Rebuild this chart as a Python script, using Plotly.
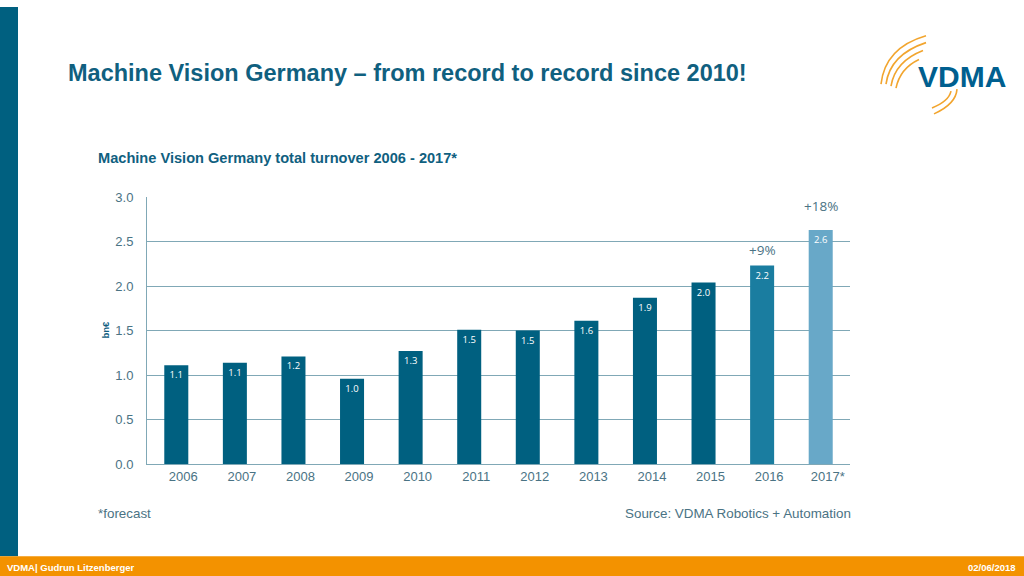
import plotly.graph_objects as go

years = ["2006", "2007", "2008", "2009", "2010", "2011", "2012", "2013", "2014", "2015", "2016", "2017*"]
turnover = [1.11, 1.14, 1.21, 0.96, 1.27, 1.51, 1.50, 1.61, 1.87, 2.04, 2.23, 2.63]
labels = [f"{v:.1f}" for v in turnover]
growth_years = ["2016", "2017*"]
growth_labels = ["+9%", "+18%"]
growth_pos = [2.41, 2.90]
y_ticks = [0.0, 0.5, 1.0, 1.5, 2.0, 2.5, 3.0]

W, H = 1024, 576
def px(x): return x / W
def py(y): return 1 - y / H

bar_colors = ["#006080"] * 10 + ["#1a7da0", "#68a8c8"]
tick_col = "#4a7384"
grid_col = "#80a8b6"

fig = go.Figure()
fig.add_trace(go.Bar(
    x=years, y=turnover, marker=dict(color=bar_colors, line=dict(width=0)),
    text=labels, textposition="inside", insidetextanchor="end",
    textfont=dict(color="white", size=9.5, family="Open Sans"),
    hoverinfo="skip", width=0.41,
))

fig.update_layout(
    width=W, height=585, margin=dict(l=0, r=0, t=0, b=0),
    paper_bgcolor="white", plot_bgcolor="white", showlegend=False,
    xaxis=dict(type="category", categoryorder="array", categoryarray=years,
               range=[-0.5, len(years) - 0.5],
               domain=[px(147), px(850)], showgrid=False, showline=True,
               linecolor=grid_col, linewidth=1, ticks="", ticklabelshift=7,
               tickfont=dict(family="Liberation Sans", size=13, color=tick_col)),
    yaxis=dict(domain=[py(462), py(192)], range=[0, 3], tickvals=y_ticks,
               tickformat=".1f", showgrid=True, gridcolor=grid_col, gridwidth=1,
               showline=True, linecolor=grid_col, zeroline=False, ticks="",
               ticklabelstandoff=10,
               tickfont=dict(family="Liberation Sans", size=13, color=tick_col)),
)

shapes = [
    dict(type="rect", xref="paper", yref="paper", x0=0, x1=px(18), y0=py(555), y1=1,
         fillcolor="#006080", line=dict(width=0), layer="below"),
    dict(type="rect", xref="paper", yref="paper", x0=0, x1=1, y0=0, y1=py(555),
         fillcolor="#f39200", line=dict(width=0), layer="below"),
]
arcs_upper = [
    ((881, 78), (885, 41), (926, 29)),
    ((886, 78), (890, 48), (926, 36)),
    ((891, 80), (895, 55), (923, 44)),
    ((896, 82), (900, 62), (919, 53)),
]
arcs_lower = [
    ((934, 108), (956, 98), (957, 83)),
    ((932, 102), (949, 95), (951, 85)),
]
for (a, b, c) in arcs_upper + arcs_lower:
    path = f"M {px(a[0])},{py(a[1])} Q {px(b[0])},{py(b[1])} {px(c[0])},{py(c[1])}"
    shapes.append(dict(type="path", xref="paper", yref="paper", path=path,
                       line=dict(color="#f2a52e", width=1.6)))
fig.update_layout(shapes=shapes)

ann = []
def t(text, x, y, size, color, xanchor="left", bold=False, family="Liberation Sans", yanchor="middle"):
    ann.append(dict(text=f"<b>{text}</b>" if bold else text, x=px(x), y=py(y), xref="paper", yref="paper",
                    showarrow=False, xanchor=xanchor, yanchor=yanchor,
                    font=dict(size=size, color=color, family=family)))

t("Machine Vision Germany – from record to record since 2010!", 66, 67, 23.5, "#10607f", bold=True)
t("Machine Vision Germany total turnover 2006 - 2017*", 96, 153, 14.6, "#10607f", bold=True)
t("*forecast", 96, 512, 13.4, tick_col)
t("Source: VDMA Robotics + Automation", 853, 512, 13.4, tick_col, xanchor="right")
t("VDMA| Gudrun Litzenberger", 5, 566, 9.5, "white", bold=True)
t("02/06/2018", 1018, 566, 9.5, "white", xanchor="right", bold=True)
t("VDMA", 962, 70, 30, "#005f8f", xanchor="center", bold=True)
ann.append(dict(text="<b>bn€</b>", x=px(106), y=py(326), xref="paper", yref="paper", showarrow=False,
                xanchor="center", yanchor="middle",
                textangle=-90, font=dict(size=9.5, color="#10607f", family="Liberation Sans")))
for yr, lab, pos in zip(growth_years, growth_labels, growth_pos):
    ann.append(dict(text=lab, x=years.index(yr), y=pos, xref="x", yref="y", showarrow=False,
                    font=dict(size=13.5, color=tick_col, family="Open Sans")))
fig.update_layout(annotations=ann)

fig.write_html(
    "out.html", config={"displayModeBar": False},
    post_script=(
        "document.documentElement.style.margin='0';"
        "document.body.style.margin='0';"
        "document.body.style.fontSize='0';"
        "document.body.style.lineHeight='0';"
        "document.body.style.overflow='hidden';"
        "document.getElementById('{plot_id}').style.display='block';"
    ),
)
